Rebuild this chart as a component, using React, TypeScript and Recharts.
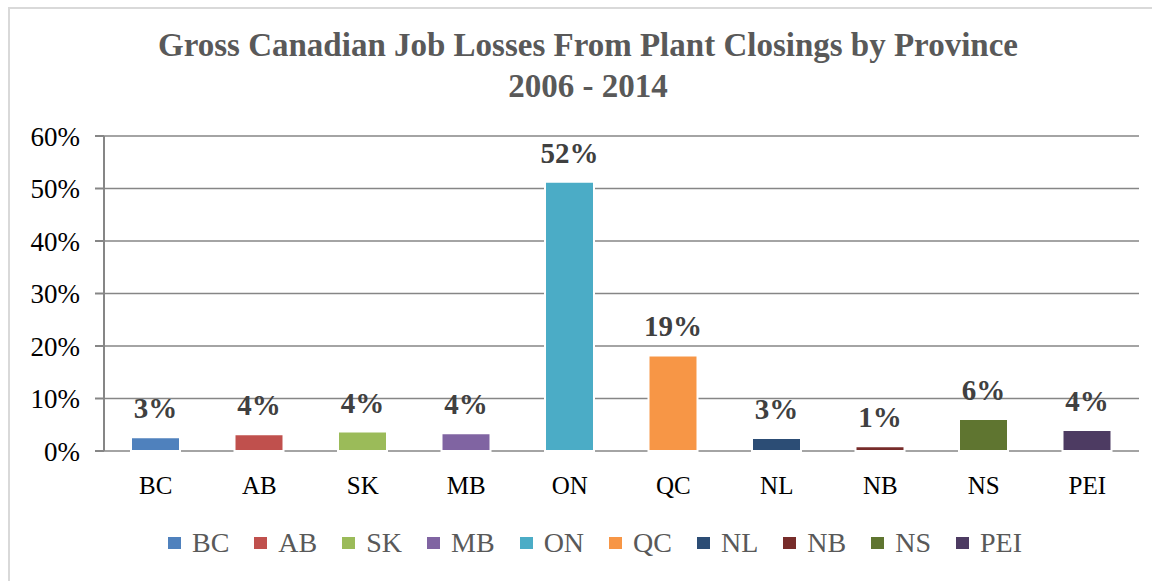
import React from 'react';
import { BarChart, Bar, XAxis, YAxis, CartesianGrid, Cell, LabelList, Legend } from 'recharts';

const categories = ['BC', 'AB', 'SK', 'MB', 'ON', 'QC', 'NL', 'NB', 'NS', 'PEI'];
const values = [2.6, 3.2, 3.7, 3.4, 51.3, 18.2, 2.5, 0.9, 6.1, 4.0];
const labels = ['3%', '4%', '4%', '4%', '52%', '19%', '3%', '1%', '6%', '4%'];
const colors = ['#4F81BD', '#C0504D', '#9BBB59', '#8064A2', '#4BACC6', '#F79646', '#2C4D75', '#772C2A', '#5F7530', '#4D3B62'];
const yTicks = [0, 10, 20, 30, 40, 50, 60];
const boundaryTicks = [0, 1, 2, 3, 4, 5, 6, 7, 8, 9, 10];
const titleLines = ['Gross Canadian Job Losses From Plant Closings by Province', '2006 - 2014'];

const data = categories.map((c, i) => ({ name: c, value: values[i], label: labels[i] }));

const SERIF = "'Liberation Serif', 'Times New Roman', serif";
const GRID = '#868686';

const renderLegend = () => (
  <div
    style={{
      height: 75,
      display: 'flex',
      alignItems: 'center',
      paddingLeft: 158,
      paddingBottom: 2,
      boxSizing: 'border-box',
      fontFamily: SERIF,
      fontSize: 28,
      color: '#595959',
    }}
  >
    {categories.map((c, i) => (
      <div key={c} style={{ display: 'flex', alignItems: 'center', marginRight: 25 }}>
        <span style={{ display: 'inline-block', width: 13, height: 12, background: colors[i], marginRight: 11 }} />
        <span>{c}</span>
      </div>
    ))}
  </div>
);

export default function App() {
  return (
    <div
      style={{
        position: 'absolute',
        left: 8,
        top: 7,
        width: 1144,
        height: 574,
        borderTop: '2px solid #d9d9d9',
        borderLeft: '2px solid #d9d9d9',
        boxSizing: 'border-box',
        background: '#fff',
      }}
    >
      <div
        style={{
          position: 'absolute',
          left: 28,
          top: 16,
          width: 1100,
          textAlign: 'center',
          fontFamily: SERIF,
          fontWeight: 'bold',
          fontSize: 33,
          lineHeight: '41px',
          color: '#595959',
        }}
      >
        {titleLines.map((t) => (
          <div key={t}>{t}</div>
        ))}
      </div>
      <BarChart width={1142} height={572} data={data} margin={{ top: 127, right: 13, left: 0, bottom: 0 }}>
        <CartesianGrid vertical={false} stroke={GRID} strokeWidth={1.5} />
        <XAxis
          xAxisId="bounds"
          type="number"
          domain={[0, 10]}
          ticks={boundaryTicks}
          height={0}
          tick={false}
          tickSize={7}
          axisLine={{ stroke: GRID, strokeWidth: 2 }}
          tickLine={{ stroke: GRID, strokeWidth: 2 }}
        />
        <XAxis
          dataKey="name"
          height={55}
          axisLine={false}
          tickLine={false}
          tickSize={0}
          tickMargin={25}
          tick={{ fontFamily: SERIF, fontSize: 25, fill: '#000' }}
        />
        <YAxis
          width={94}
          domain={[0, 60]}
          ticks={yTicks}
          tickFormatter={(v) => `${v}%`}
          tickSize={9}
          tickMargin={15}
          axisLine={{ stroke: GRID, strokeWidth: 2 }}
          tickLine={{ stroke: GRID, strokeWidth: 2 }}
          tick={{ fontFamily: SERIF, fontSize: 27, fill: '#000' }}
        />
        <Legend verticalAlign="bottom" content={renderLegend} wrapperStyle={{ left: 0, bottom: 0 }} />
        <Bar dataKey="value" barSize={49} stroke="#fff" strokeWidth={2} isAnimationActive={false}>
          {data.map((d, i) => (
            <Cell key={d.name} fill={colors[i]} />
          ))}
          <LabelList
            dataKey="label"
            position="top"
            offset={19}
            style={{ fontFamily: SERIF, fontWeight: 'bold', fontSize: 29, fill: '#404040' }}
          />
        </Bar>
      </BarChart>
    </div>
  );
}
